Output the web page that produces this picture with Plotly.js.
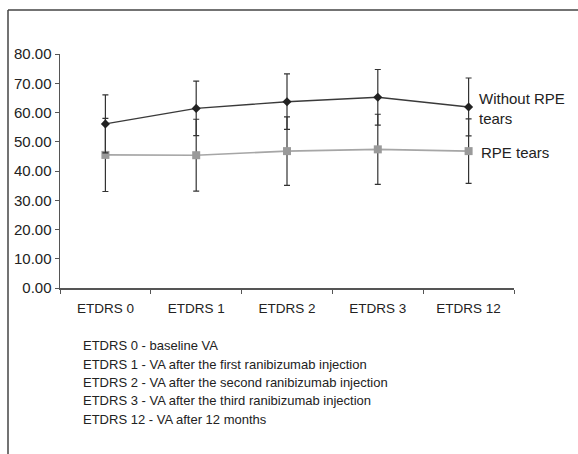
<!DOCTYPE html>
<html>
<head>
<meta charset="utf-8">
<script src="https://cdn.plot.ly/plotly-3.0.1.min.js"></script>
<style>
html,body{margin:0;padding:0;background:#fff;}
#chart{width:578px;height:454px;}
</style>
</head>
<body>
<div id="chart"></div>
<script>
var categories = ["ETDRS 0", "ETDRS 1", "ETDRS 2", "ETDRS 3", "ETDRS 12"];
var withoutTears = [56.1, 61.4, 63.7, 65.2, 61.9];
var withoutTearsSD = [9.9, 9.3, 9.5, 9.5, 9.9];
var rpeTears = [45.5, 45.4, 46.8, 47.4, 46.8];
var rpeTearsSD = [12.5, 12.3, 11.7, 12.0, 11.0];
var seriesLabels = ["Without RPE", "tears", "RPE tears"];
var footnotes = [
  "ETDRS 0 - baseline VA",
  "ETDRS 1 - VA after the first ranibizumab injection",
  "ETDRS 2 - VA after the second ranibizumab injection",
  "ETDRS 3 - VA after the third ranibizumab injection",
  "ETDRS 12 - VA after 12 months"
];

var FONT = "'Liberation Sans', Arial, sans-serif";
var TXT = "#222";

var traces = [
  {
    x: categories, y: rpeTears, type: "scatter", mode: "lines+markers",
    line: {color: "#a6a6a6", width: 1.6},
    marker: {symbol: "square", size: 8, color: "#9a9a9a"},
    error_y: {type: "data", array: rpeTearsSD, visible: true, color: "#333", thickness: 1.2, width: 3},
    showlegend: false
  },
  {
    x: categories, y: withoutTears, type: "scatter", mode: "lines+markers",
    line: {color: "#3a3a3a", width: 1.4},
    marker: {symbol: "diamond", size: 7, color: "#222"},
    error_y: {type: "data", array: withoutTearsSD, visible: true, color: "#333", thickness: 1.2, width: 3},
    showlegend: false
  }
];

// plot area: x 60..514, y 54..288
function py(p){ return (288 - p) / 234; }
function px(p){ return (p - 60) / 454; }

var annotations = [
  {xref: "paper", yref: "paper", x: px(477), y: py(98), xanchor: "left", yanchor: "middle", text: seriesLabels[0], showarrow: false, font: {family: FONT, size: 15, color: TXT}},
  {xref: "paper", yref: "paper", x: px(477), y: py(118), xanchor: "left", yanchor: "middle", text: seriesLabels[1], showarrow: false, font: {family: FONT, size: 15, color: TXT}},
  {xref: "paper", yref: "paper", x: px(479), y: py(152), xanchor: "left", yanchor: "middle", text: seriesLabels[2], showarrow: false, font: {family: FONT, size: 15, color: TXT}}
];
var fy = [345.5, 364, 382.5, 400.5, 419];
footnotes.forEach(function(t, i){
  annotations.push({xref: "paper", yref: "paper", x: px(81), y: py(fy[i]), xanchor: "left", yanchor: "middle", text: t, showarrow: false, font: {family: FONT, size: 13, color: TXT}});
});

var layout = {
  width: 578, height: 454,
  margin: {l: 60, r: 64, t: 54, b: 166, pad: 0},
  paper_bgcolor: "#fff", plot_bgcolor: "#fff",
  font: {family: FONT, color: TXT},
  xaxis: {
    type: "category", range: [-0.5, 4.5], showgrid: false, zeroline: false,
    showline: true, linecolor: "#555", linewidth: 1.5,
    ticks: "outside", tickson: "boundaries", ticklen: 4, tickcolor: "#555", tickwidth: 1,
    ticklabelstandoff: 7,
    tickfont: {family: FONT, size: 13.5, color: TXT}
  },
  yaxis: {
    range: [0, 80], dtick: 10, tickformat: ".2f", showgrid: false, zeroline: false,
    showline: true, linecolor: "#555", linewidth: 1.5,
    ticks: "outside", ticklen: 4, tickcolor: "#555", tickwidth: 1,
    ticklabelstandoff: 0,
    tickfont: {family: FONT, size: 15, color: TXT}
  },
  shapes: [
    {type: "line", xref: "paper", yref: "paper", x0: px(8), x1: px(580), y0: py(10), y1: py(10), line: {color: "#444", width: 1.5}},
    {type: "line", xref: "paper", yref: "paper", x0: px(8), x1: px(8), y0: py(10), y1: py(456), line: {color: "#444", width: 1.5}}
  ],
  annotations: annotations
};

Plotly.newPlot("chart", traces, layout, {displayModeBar: false, staticPlot: true});
</script>
</body>
</html>
